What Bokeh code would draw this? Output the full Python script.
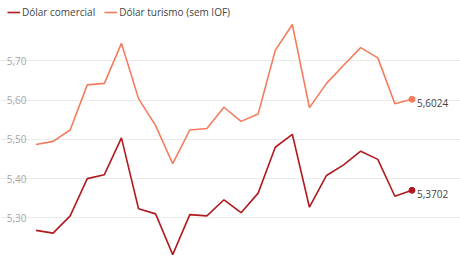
from bokeh.plotting import figure
from bokeh.models import ColumnDataSource, FixedTicker, Legend, LegendItem, Range1d
from bokeh.core.properties import value
from bokeh.embed import file_html
from bokeh.resources import INLINE

# --- data ---
idx = list(range(23))
comercial = [5.268, 5.261, 5.305, 5.400, 5.410, 5.504, 5.323, 5.310, 5.206, 5.308,
             5.305, 5.346, 5.313, 5.363, 5.480, 5.513, 5.327, 5.408, 5.435, 5.470,
             5.449, 5.355, 5.3702]
turismo = [5.487, 5.495, 5.524, 5.639, 5.643, 5.745, 5.604, 5.535, 5.438, 5.524,
           5.528, 5.582, 5.546, 5.565, 5.727, 5.793, 5.581, 5.643, 5.689, 5.734,
           5.708, 5.591, 5.6024]
series_names = ["Dólar comercial", "Dólar turismo (sem IOF)"]
end_labels = ["5,3702", "5,6024"]
y_ticks = [5.30, 5.40, 5.50, 5.60, 5.70]
y_tick_labels = ["5,30", "5,40", "5,50", "5,60", "5,70"]

DARK = "#b01a1f"
LIGHT = "#f47c5c"
FONT = "Open Sans"
STEP = 17.09  # px per data step

p = figure(width=460, height=260, output_backend="svg", toolbar_location=None,
           x_axis_location=None, min_border_left=0, min_border_right=0,
           min_border_top=0, min_border_bottom=2)
# frame spans the whole width; grid lines limited to the data area
x0 = -0.38 - 29 / STEP
p.x_range = Range1d(x0, x0 + 460 / STEP)
p.y_range = Range1d(5.1962, 5.8543)
p.outline_line_color = None
p.background_fill_color = "white"
p.border_fill_color = "white"

p.xgrid.visible = False
p.ygrid.grid_line_color = "#ebebeb"
p.ygrid.grid_line_width = 1
p.ygrid.bounds = (-0.38, 22.37)

ya = p.yaxis[0]
ya.ticker = FixedTicker(ticks=y_ticks)
ya.major_label_overrides = {t: l for t, l in zip(y_ticks, y_tick_labels)}
ya.axis_line_color = None
ya.major_tick_line_color = None
ya.minor_tick_line_color = None
ya.major_tick_out = 0
ya.major_tick_in = 0
ya.major_label_standoff = -26
ya.major_label_text_font = FONT
ya.major_label_text_font_size = "10px"
ya.major_label_text_color = "#a6a6a6"

src = ColumnDataSource(dict(x=idx, c=comercial, t=turismo))
r1 = p.line("x", "c", source=src, line_color=DARK, line_width=1.6)
r2 = p.line("x", "t", source=src, line_color=LIGHT, line_width=1.6)

last = idx[-1]
p.scatter([last], [comercial[-1]], size=6, fill_color=DARK, line_color=DARK)
p.scatter([last], [turismo[-1]], size=6, fill_color=LIGHT, line_color=LIGHT)
p.text([last, last], [comercial[-1], turismo[-1]], text=end_labels,
       x_offset=5, y_offset=4, text_baseline="middle", text_align="left",
       text_font=value(FONT), text_font_size="10px", text_color="#444444")

legend = Legend(items=[LegendItem(label=series_names[0], renderers=[r1]),
                       LegendItem(label=series_names[1], renderers=[r2])],
                orientation="horizontal", location=(7, 236),
                margin=0, padding=0, spacing=9, glyph_width=13, glyph_height=20,
                label_standoff=2, label_height=20,
                label_text_font=FONT, label_text_font_size="10px",
                label_text_color="#444444", background_fill_alpha=0,
                border_line_color=None)
p.add_layout(legend, "center")

open("out.html", "w").write(file_html(p, INLINE))
